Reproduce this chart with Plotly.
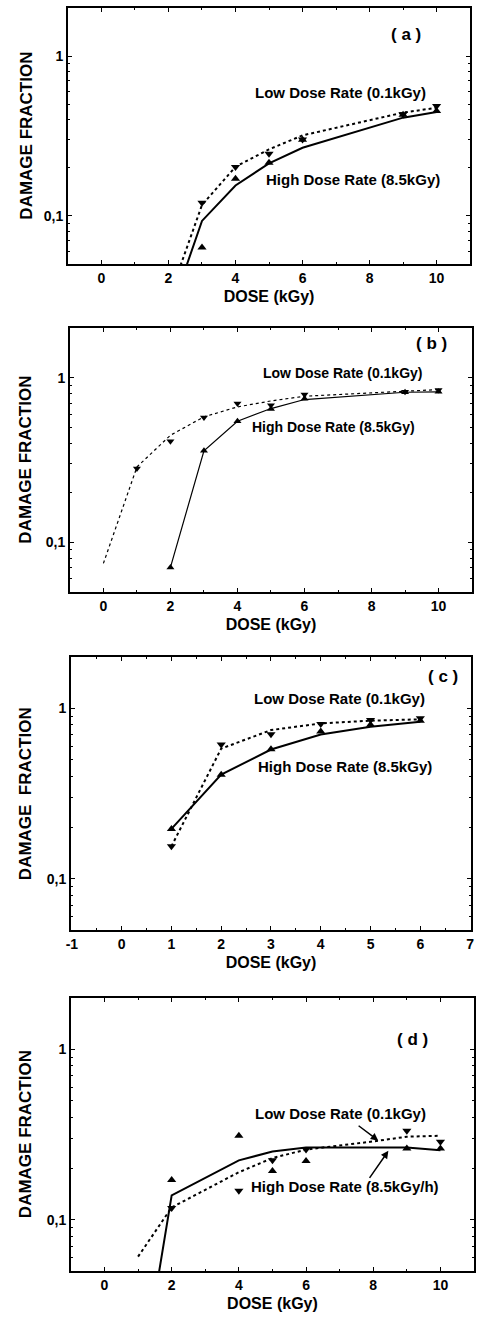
import numpy as np
import plotly.graph_objects as go

# ---------------- data ----------------
# Panel (a)
dose_a = [3, 4, 5, 6, 9, 10]
low_a = [0.121, 0.202, 0.245, 0.301, 0.432, 0.487]
high_a = [0.0634, 0.171, 0.215, 0.30, 0.43, 0.453]
fitx_a = [2, 3, 4, 5, 6, 9, 10]
lowfit_a = [0.03, 0.117, 0.203, 0.261, 0.319, 0.443, 0.475]
highfit_a = [0.023, 0.093, 0.155, 0.213, 0.267, 0.412, 0.447]

# Panel (b)
dose_b_low = [1, 2, 3, 4, 5, 6, 9, 10]
low_b = [0.281, 0.411, 0.572, 0.696, 0.68, 0.79, 0.82, 0.84]
dose_b_high = [2, 3, 4, 5, 6, 9, 10]
high_b = [0.0705, 0.36, 0.544, 0.645, 0.745, 0.815, 0.82]
lowfitx_b = [0, 1, 2, 3, 4, 5, 6, 9, 10]
lowfit_b = [0.0746, 0.287, 0.447, 0.578, 0.664, 0.722, 0.771, 0.826, 0.846]
highfitx_b = [2, 3, 4, 5, 6, 9, 10]
highfit_b = [0.0705, 0.36, 0.544, 0.649, 0.736, 0.815, 0.819]

# Panel (c)
dose_c = [1, 2, 3, 4, 5, 6]
low_c = [0.155, 0.613, 0.705, 0.81, 0.855, 0.875]
high_c = [0.196, 0.408, 0.575, 0.73, 0.80, 0.845]
lowfit_c = [0.155, 0.58, 0.745, 0.815, 0.846, 0.861]
highfit_c = [0.196, 0.408, 0.573, 0.702, 0.779, 0.834]

# Panel (d)
dose_d = [2, 4, 5, 6, 9, 10]
low_d = [0.117, 0.148, 0.223, 0.258, 0.333, 0.287]
high_d = [0.171, 0.311, 0.193, 0.221, 0.262, 0.262]
lowfitx_d = [1, 2, 4, 5, 6, 7, 8, 9, 10]
lowfit_d = [0.0607, 0.118, 0.19, 0.23, 0.258, 0.272, 0.288, 0.307, 0.311]
highfitx_d = [1.5, 2, 4, 5, 6, 9, 10]
highfit_d = [0.035, 0.139, 0.223, 0.251, 0.265, 0.265, 0.256]

ytick_vals = [0.1, 1]
ytick_text = ["0,1", "1"]
yminor_vals = [0.05, 0.06, 0.07, 0.08, 0.09, 0.2, 0.3, 0.4, 0.5, 0.6, 0.7, 0.8, 0.9, 2]
xtick_vals_c = [-1, 0, 1, 2, 3, 4, 5, 6, 7]
xtick_text_c = ["-1", "0", "1", "2", "3", "4", "5", "6", "7"]

low_label = "Low Dose Rate (0.1kGy)"
high_label = "High Dose Rate (8.5kGy)"
high_label_d = "High Dose Rate (8.5kGy/h)"
x_title = "DOSE (kGy)"
y_title = "DAMAGE FRACTION"
y_title_c = "DAMAGE\u00a0 FRACTION"

# ---------------- layout geometry ----------------
W, H = 479, 1319
frames = {  # left, right, top, bottom in pixels
    1: (64, 473, 8, 264),
    2: (66, 475, 328, 592),
    3: (67, 474, 657, 930),
    4: (67, 477, 998, 1271),
}
xranges = {1: [-1, 11], 2: [-1, 11], 3: [-1.02, 7.02], 4: [-1, 11]}
yrange = [np.log10(0.05), np.log10(2.0)]

FONT = "Liberation Sans, Arial, sans-serif"
fig = go.Figure()

panels = [
    (1, [(fitx_a, lowfit_a, "dot", 2), (fitx_a, highfit_a, "solid", 2)],
     [(dose_a, low_a, "triangle-down"), (dose_a, high_a, "triangle-up")]),
    (2, [(lowfitx_b, lowfit_b, "dot", 1.2), (highfitx_b, highfit_b, "solid", 1.2)],
     [(dose_b_low, low_b, "triangle-down"), (dose_b_high, high_b, "triangle-up")]),
    (3, [(dose_c, lowfit_c, "dot", 2), (dose_c, highfit_c, "solid", 2)],
     [(dose_c, low_c, "triangle-down"), (dose_c, high_c, "triangle-up")]),
    (4, [(lowfitx_d, lowfit_d, "dot", 2), (highfitx_d, highfit_d, "solid", 2)],
     [(dose_d, low_d, "triangle-down"), (dose_d, high_d, "triangle-up")]),
]

for i, lines, marks in panels:
    xa = "x" if i == 1 else f"x{i}"
    ya = "y" if i == 1 else f"y{i}"
    for xs, ys, dash, w in lines:
        fig.add_trace(go.Scatter(x=xs, y=ys, mode="lines", xaxis=xa, yaxis=ya,
                                 line=dict(color="black", width=w, dash=dash),
                                 showlegend=False, hoverinfo="skip"))
    for xs, ys, sym in marks:
        fig.add_trace(go.Scatter(x=xs, y=ys, mode="markers", xaxis=xa, yaxis=ya,
                                 marker=dict(symbol=sym, size=8 if i != 2 else 7, color="black"),
                                 showlegend=False, hoverinfo="skip"))

layout = dict(width=W, height=H, margin=dict(l=0, r=0, t=0, b=0),
              paper_bgcolor="white", plot_bgcolor="white", showlegend=False)

tickfont = dict(family=FONT, size=14, color="black", weight="bold")
annotations = []
for i in range(1, 5):
    l, r, t, b = frames[i]
    xd = [l / W, r / W]
    yd = [1 - b / H, 1 - t / H]
    xk = "xaxis" if i == 1 else f"xaxis{i}"
    yk = "yaxis" if i == 1 else f"yaxis{i}"
    xa = "x" if i == 1 else f"x{i}"
    ya = "y" if i == 1 else f"y{i}"
    if i == 3:
        xt = dict(tickmode="array", tickvals=xtick_vals_c, ticktext=xtick_text_c)
        xminor = dict(dtick=0.5, tick0=0, ticks="inside", ticklen=2, tickcolor="black")
    else:
        xt = dict(tickmode="linear", tick0=0, dtick=2)
        xminor = dict(dtick=1, tick0=0, ticks="inside", ticklen=2, tickcolor="black")
    layout[xk] = dict(domain=xd, anchor=ya, range=xranges[i], showgrid=False, zeroline=False,
                      showline=True, linecolor="black", linewidth=1.8, mirror="ticks",
                      ticks="inside", ticklen=4, tickwidth=1.3, tickcolor="black",
                      tickfont=tickfont, minor=xminor, ticklabeloverflow="allow",
                      title=dict(text=x_title, font=dict(family=FONT, size=16, color="black", weight="bold"),
                                 standoff=6),
                      **xt)
    layout[yk] = dict(domain=yd, anchor=xa, type="log", range=yrange, showgrid=False, zeroline=False,
                      showline=True, linecolor="black", linewidth=1.8, mirror="ticks",
                      ticks="inside", ticklen=4, tickwidth=1.3, tickcolor="black",
                      tickmode="array", tickvals=ytick_vals, ticktext=ytick_text, tickfont=tickfont,
                      minor=dict(tickmode="array", tickvals=yminor_vals, ticks="inside", ticklen=2,
                                 tickcolor="black"))
    annotations.append(dict(text=y_title_c if i == 3 else y_title, textangle=-90,
                            xref="paper", yref=f"{ya} domain", x=21 / W, y=0.5,
                            xanchor="center", yanchor="middle", showarrow=False,
                            font=dict(family=FONT, size=17, color="black", weight="bold")))

lab = dict(family=FONT, size=15, color="black", weight="bold")
panel_lab = dict(family=FONT, size=17, color="black", weight="bold")
texts = [
    ("x", "y", 9.09, 0.135, "( a )", panel_lab),
    ("x", "y", 7.14, -0.229, low_label, lab),
    ("x", "y", 7.5, -0.775, high_label, lab),
    ("x2", "y2", 9.78, 0.206, "( b )", panel_lab),
    ("x2", "y2", 7.14, 0.028, low_label, dict(lab, size=14)),
    ("x2", "y2", 6.86, -0.299, high_label, dict(lab, size=14)),
    ("x3", "y3", 6.45, 0.187, "( c )", panel_lab),
    ("x3", "y3", 4.38, 0.055, low_label, lab),
    ("x3", "y3", 4.48, -0.339, high_label, lab),
    ("x4", "y4", 9.17, 0.055, "( d )", panel_lab),
    ("x4", "y4", 7.04, -0.379, low_label, lab),
    ("x4", "y4", 7.17, -0.807, high_label_d, lab),
]
for xr, yr, x, y, t, f in texts:
    annotations.append(dict(text=t, xref=xr, yref=yr, x=x, y=y, showarrow=False,
                            xanchor="center", yanchor="middle", font=f))

# arrows in panel (d)
for tip, tail in [((8.15, -0.536), (7.52, -0.442)), ((8.45, -0.596), (7.86, -0.763))]:
    annotations.append(dict(text="", xref="x4", yref="y4", x=tip[0], y=tip[1],
                            axref="x4", ayref="y4", ax=tail[0], ay=tail[1],
                            showarrow=True, arrowhead=2, arrowsize=1, arrowwidth=1.5,
                            arrowcolor="black"))

layout["annotations"] = annotations
fig.update_layout(**layout)
fig.write_html("out.html", config={"displayModeBar": False},
               post_script="document.body.style.margin='0px';document.body.style.overflow='hidden';")
